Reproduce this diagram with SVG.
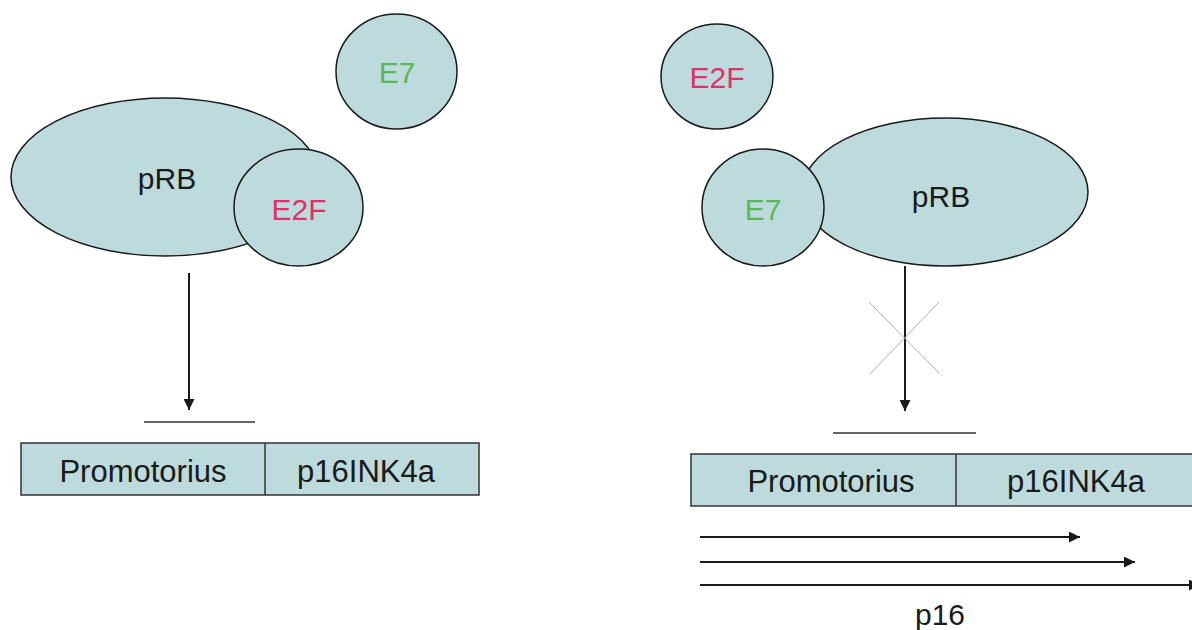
<svg xmlns="http://www.w3.org/2000/svg" width="1192" height="630" viewBox="0 0 1192 630">
<style>
.mol{fill:#bddbdc;stroke:#1a1a1a;stroke-width:1.5}
.box{fill:#bddbdc;stroke:#333;stroke-width:1.5}
text{font-family:"Liberation Sans",Arial,sans-serif;font-size:30px;text-anchor:middle}
.k{fill:#1a1a1a}
.g{fill:#5cb85a}
.r{fill:#e0306a}
.ln{stroke:#1a1a1a;stroke-width:2;fill:none}
.bar{stroke:#333;stroke-width:1.5}
.x{stroke:#b0b0b0;stroke-width:1}
</style>
<defs>
<marker id="ah" viewBox="0 0 10 10" refX="10" refY="5" markerWidth="5.5" markerHeight="5.5" orient="auto" markerUnits="strokeWidth">
<path d="M0,0 L10,5 L0,10 z" fill="#1a1a1a"/>
</marker>
</defs>
<rect width="1192" height="630" fill="#fff"/>
<g id="left-pRB"><ellipse class="mol" cx="165" cy="177" rx="154" ry="79"/><text class="k" x="167" y="189">pRB</text></g>
<g id="left-E2F"><ellipse class="mol" cx="298.5" cy="207.5" rx="64.5" ry="58.5"/><text class="r" x="299" y="220">E2F</text></g>
<g id="left-E7"><ellipse class="mol" cx="396.5" cy="71.5" rx="60.5" ry="57.5"/><text class="g" x="397" y="83">E7</text></g>
<g id="left-gene">
<rect class="box" x="21" y="443" width="458" height="52"/>
<line class="bar" x1="265" y1="443" x2="265" y2="495"/>
<text class="k" x="143" y="482" style="font-size:31px">Promotorius</text>
<text class="k" x="366" y="482" style="font-size:31px">p16INK4a</text>
</g>
<g id="right-E2F"><ellipse class="mol" cx="717" cy="76.5" rx="56" ry="52.5"/><text class="r" x="717" y="88">E2F</text></g>
<g id="right-pRB"><ellipse class="mol" cx="945" cy="192" rx="143" ry="74"/><text class="k" x="941" y="207">pRB</text></g>
<g id="right-E7"><ellipse class="mol" cx="763" cy="207.5" rx="61" ry="58.5"/><text class="g" x="763" y="220">E7</text></g>
<g id="right-gene">
<rect class="box" x="691" y="454" width="510" height="52"/>
<line class="bar" x1="956" y1="454" x2="956" y2="506"/>
<text class="k" x="831" y="492" style="font-size:31px">Promotorius</text>
<text class="k" x="1076" y="492" style="font-size:31px">p16INK4a</text>
</g>
<g id="connectors">
<line class="ln" x1="189" y1="273" x2="189" y2="410" marker-end="url(#ah)"/>
<line class="bar" x1="144" y1="422" x2="255" y2="422"/>
<line class="ln" x1="905" y1="266" x2="905" y2="411" marker-end="url(#ah)"/>
<line class="x" x1="869" y1="302" x2="939" y2="373"/>
<line class="x" x1="939" y1="302" x2="870" y2="374"/>
<line class="bar" x1="833" y1="433" x2="976" y2="433"/>
<line class="ln" x1="700" y1="537" x2="1080" y2="537" marker-end="url(#ah)"/>
<line class="ln" x1="700" y1="562" x2="1135" y2="562" marker-end="url(#ah)"/>
<line class="ln" x1="700" y1="585" x2="1200" y2="585" marker-end="url(#ah)"/>
</g>
<text class="k" x="940" y="625">p16</text>
</svg>
